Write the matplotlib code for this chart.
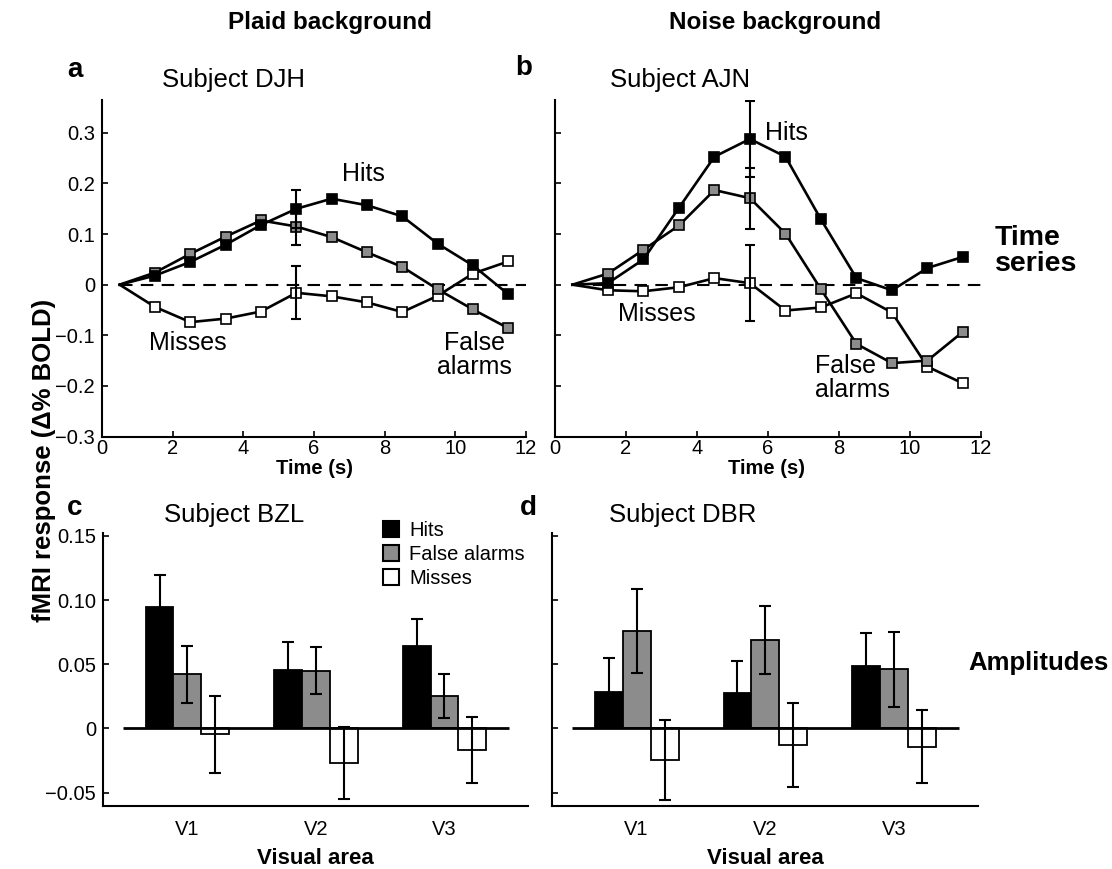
import matplotlib
matplotlib.use("Agg")
import matplotlib.pyplot as plt
from matplotlib.ticker import FuncFormatter

W, H = 1112, 869

# time axis of the event-related responses (s)
time_s = [0.5, 1.5, 2.5, 3.5, 4.5, 5.5, 6.5, 7.5, 8.5, 9.5, 10.5, 11.5]
err_idx = 5  # error bars only drawn at t = 5.5 s

# panel a: subject DJH, plaid background
djh_hits = [0, 0.018, 0.045, 0.079, 0.118, 0.150, 0.170, 0.157, 0.135, 0.081, 0.038, -0.019]
djh_fa = [0, 0.024, 0.061, 0.095, 0.127, 0.115, 0.094, 0.064, 0.035, -0.009, -0.049, -0.086]
djh_miss = [0, -0.044, -0.074, -0.067, -0.053, -0.016, -0.023, -0.035, -0.054, -0.022, 0.022, 0.046]
djh_err = [0.038, 0.036, 0.052]  # hits, false alarms, misses

# panel b: subject AJN, noise background
ajn_hits = [0, 0.003, 0.050, 0.152, 0.253, 0.288, 0.253, 0.129, 0.013, -0.011, 0.033, 0.055]
ajn_fa = [0, 0.022, 0.069, 0.117, 0.187, 0.171, 0.101, -0.009, -0.117, -0.155, -0.150, -0.093]
ajn_miss = [0, -0.011, -0.013, -0.005, 0.013, 0.003, -0.051, -0.045, -0.017, -0.055, -0.162, -0.195]
ajn_err = [0.075, 0.060, 0.075]

# panels c, d: response amplitudes per visual area
areas = ["V1", "V2", "V3"]
bzl_hits = [0.0948, 0.0455, 0.0644]
bzl_hits_err = [0.0247, 0.0220, 0.0206]
bzl_fa = [0.0420, 0.0450, 0.0250]
bzl_fa_err = [0.0223, 0.0185, 0.0171]
bzl_miss = [-0.0047, -0.0268, -0.0169]
bzl_miss_err = [0.0300, 0.0280, 0.0260]

dbr_hits = [0.0280, 0.0278, 0.0486]
dbr_hits_err = [0.0270, 0.0250, 0.0254]
dbr_fa = [0.0758, 0.0688, 0.0460]
dbr_fa_err = [0.0326, 0.0266, 0.0292]
dbr_miss = [-0.0247, -0.0130, -0.0143]
dbr_miss_err = [0.0314, 0.0330, 0.0285]

GRAY = "#8c8c8c"

plt.rcParams["font.family"] = ["Liberation Sans", "DejaVu Sans"]
plt.rcParams["axes.linewidth"] = 1.5


def ftext(fig, px, py, s, **kw):
    fig.text(px / W, 1 - py / H, s, **kw)


def style_axes(ax):
    ax.spines["top"].set_visible(False)
    ax.spines["right"].set_visible(False)
    ax.tick_params(direction="in", length=4, width=1.2, labelsize=14.5)


def time_panel(ax, hits, fa, miss, err, show_labels):
    ax.hlines(0, time_s[0], 12, colors="k", linestyles=(0, (6, 4)), lw=1.5, zorder=1)
    series = [(miss, "white"), (fa, GRAY), (hits, "black")]
    for (vals, face), e in zip(series, err[::-1]):
        ax.plot(time_s, vals, "-s", color="k", mfc=face, mec="k", ms=7.5,
                mew=1.2, lw=1.9, markevery=slice(1, None), zorder=2)
        ax.errorbar(time_s[err_idx], vals[err_idx], yerr=e, fmt="none",
                    ecolor="k", elinewidth=1.5, capsize=3.5, capthick=1.5, zorder=3)
    style_axes(ax)
    ax.set_xlim(0, 12)
    ax.set_ylim(-0.3, 0.365)
    ax.set_xticks(range(0, 13, 2))
    ax.set_yticks([-0.3, -0.2, -0.1, 0, 0.1, 0.2, 0.3])
    ax.yaxis.set_major_formatter(FuncFormatter(
        lambda v, p: "0" if abs(v) < 1e-9 else f"{v:.1f}".replace("-", "\u2212")))
    ax.tick_params(axis="x", pad=2)
    ax.tick_params(axis="y", pad=5, labelleft=show_labels)


def bar_panel(ax, hits, hits_err, fa, fa_err, miss, miss_err, show_labels):
    w = 0.217
    x = [1, 2, 3]
    ekw = dict(elinewidth=1.5, capsize=4.3, capthick=1.5, ecolor="k")
    bars = []
    for off, vals, errs, face in [(-w, hits, hits_err, "black"),
                                  (0, fa, fa_err, GRAY),
                                  (w, miss, miss_err, "white")]:
        b = ax.bar([xi + off for xi in x], vals, w, yerr=errs, color=face,
                   edgecolor="k", lw=1.3, error_kw=ekw, zorder=2)
        bars.append(b)
    ax.hlines(0, 0.5, 3.5, colors="k", lw=2, zorder=3)
    style_axes(ax)
    ax.set_xlim(0.343, 3.65)
    ax.set_ylim(-0.0605, 0.152)
    ax.set_xticks(x)
    ax.set_xticklabels(areas)
    ax.set_yticks([-0.05, 0, 0.05, 0.10, 0.15])
    ax.yaxis.set_major_formatter(FuncFormatter(
        lambda v, p: "0" if abs(v) < 1e-9 else f"{v:.2f}".replace("-", "\u2212")))
    ax.tick_params(axis="x", length=0, pad=10)
    ax.tick_params(axis="y", pad=5, labelleft=show_labels)
    return bars


def main():
    fig = plt.figure(figsize=(W / 100, H / 100), dpi=100)

    ax_a = fig.add_axes([102 / W, 1 - 436.5 / H, 424 / W, 336.5 / H])
    ax_b = fig.add_axes([554.7 / W, 1 - 436.5 / H, 426 / W, 336.5 / H])
    ax_c = fig.add_axes([103 / W, 1 - 806 / H, 425 / W, 272.7 / H])
    ax_d = fig.add_axes([552 / W, 1 - 806 / H, 426 / W, 272.7 / H])

    time_panel(ax_a, djh_hits, djh_fa, djh_miss, djh_err, True)
    time_panel(ax_b, ajn_hits, ajn_fa, ajn_miss, ajn_err, False)
    bars = bar_panel(ax_c, bzl_hits, bzl_hits_err, bzl_fa, bzl_fa_err,
                     bzl_miss, bzl_miss_err, True)
    bar_panel(ax_d, dbr_hits, dbr_hits_err, dbr_fa, dbr_fa_err,
              dbr_miss, dbr_miss_err, False)

    leg = ax_c.legend(bars, ["Hits", "False alarms", "Misses"], loc="upper left",
                      bbox_to_anchor=(383 / W, 1 - 521 / H), bbox_transform=fig.transFigure,
                      frameon=False, fontsize=14.5, handlelength=0.8, handleheight=0.8,
                      handletextpad=0.5, labelspacing=0.25, borderpad=0, borderaxespad=0)
    for patch in leg.get_patches():
        patch.set_linewidth(1.5)

    # column headers and row labels
    ftext(fig, 330, 22, "Plaid background", weight="bold", fontsize=17.5,
          ha="center", va="center")
    ftext(fig, 775, 22, "Noise background", weight="bold", fontsize=17.5,
          ha="center", va="center")
    ftext(fig, 995, 251, "Time\nseries", weight="bold", fontsize=20.5,
          ha="left", va="center", linespacing=1.0)
    ftext(fig, 968, 663, "Amplitudes", weight="bold", fontsize=18.5,
          ha="left", va="center")

    # panel letters and subject names
    for px, py, s in [(75, 70, "a"), (524, 68, "b"), (75, 508, "c"), (528, 508, "d")]:
        ftext(fig, px, py, s, weight="bold", fontsize=20, ha="center", va="center")
    for px, py, s in [(234, 80, "Subject DJH"), (680, 80, "Subject AJN"),
                      (234, 515, "Subject BZL"), (683, 515, "Subject DBR")]:
        ftext(fig, px, py, s, fontsize=18.5, ha="center", va="center")

    # curve labels
    ftext(fig, 363, 174, "Hits", fontsize=18, ha="center", va="center")
    ftext(fig, 188, 343, "Misses", fontsize=18, ha="center", va="center")
    ftext(fig, 474, 355, "False\nalarms", fontsize=18, ha="center", va="center",
          linespacing=1.0)
    ftext(fig, 786, 133, "Hits", fontsize=18, ha="center", va="center")
    ftext(fig, 657, 314, "Misses", fontsize=18, ha="center", va="center")
    ftext(fig, 815, 378, "False\nalarms", fontsize=18, ha="left", va="center",
          linespacing=1.0)

    # axis labels
    ftext(fig, 314, 469, "Time (s)", weight="bold", fontsize=14.5, ha="center", va="center")
    ftext(fig, 767, 469, "Time (s)", weight="bold", fontsize=14.5, ha="center", va="center")
    ftext(fig, 315, 858, "Visual area", weight="bold", fontsize=16, ha="center", va="center")
    ftext(fig, 765, 858, "Visual area", weight="bold", fontsize=16, ha="center", va="center")
    ftext(fig, 44, 460, "fMRI response (\u0394% BOLD)", weight="bold",
          fontsize=18.5, rotation=90, ha="center", va="center")

    fig.savefig("out.png", dpi=100)


if __name__ == "__main__":
    main()
